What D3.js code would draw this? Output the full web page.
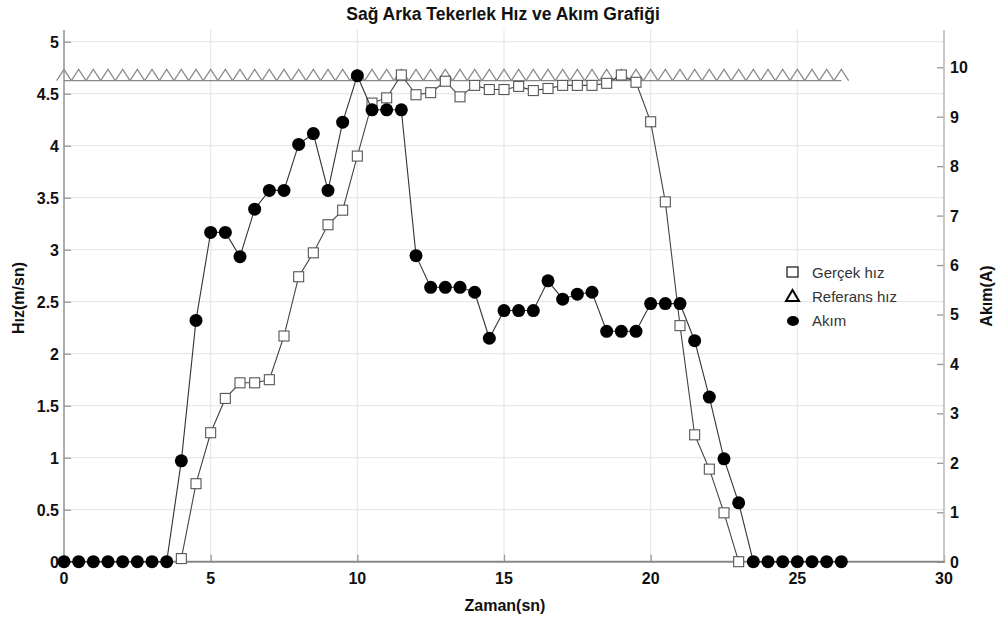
<!DOCTYPE html>
<html><head><meta charset="utf-8">
<script src="https://cdn.jsdelivr.net/npm/d3@7"></script>
<style>body{margin:0;background:#fff}svg{display:block}text{font-family:"Liberation Sans",Arial,sans-serif}</style>
</head><body><svg id="c" width="1003" height="620"></svg>
<script>
const title = "Sağ Arka Tekerlek Hız ve Akım Grafiği";
const xLabel = "Zaman(sn)", yLabelL = "Hız(m/sn)", yLabelR = "Akım(A)";
const xTicks = [0,5,10,15,20,25,30];
const yTicksL = [0,0.5,1,1.5,2,2.5,3,3.5,4,4.5,5];
const yTicksR = [0,1,2,3,4,5,6,7,8,9,10];
const legendNames = ["Gerçek hız","Referans hız","Akım"];

// Akım (A), t = 0 .. 26.5 step 0.5
const currentTime = [0,0.5,1,1.5,2,2.5,3,3.5,4,4.5,5,5.5,6,6.5,7,7.5,8,8.5,9,9.5,10,10.5,11,11.5,12,12.5,13,13.5,14,14.5,15,15.5,16,16.5,17,17.5,18,18.5,19,19.5,20,20.5,21,21.5,22,22.5,23,23.5,24,24.5,25,25.5,26,26.5];
const currentVals = [0,0,0,0,0,0,0,0,2.04,4.88,6.66,6.66,6.17,7.13,7.51,7.51,8.44,8.66,7.51,8.89,9.83,9.14,9.14,9.14,6.19,5.55,5.55,5.55,5.45,4.52,5.08,5.08,5.08,5.68,5.31,5.41,5.45,4.66,4.66,4.66,5.22,5.22,5.22,4.47,3.33,2.08,1.19,0,0,0,0,0,0,0];
// Gerçek hız (m/sn), t = 4 .. 23
const speedTime = [4,4.5,5,5.5,6,6.5,7,7.5,8,8.5,9,9.5,10,10.5,11,11.5,12,12.5,13,13.5,14,14.5,15,15.5,16,16.5,17,17.5,18,18.5,19,19.5,20,20.5,21,21.5,22,22.5,23];
const speedVals = [0.03,0.75,1.24,1.57,1.72,1.72,1.75,2.17,2.74,2.97,3.24,3.38,3.90,4.41,4.46,4.68,4.49,4.51,4.62,4.47,4.58,4.54,4.54,4.57,4.53,4.55,4.58,4.58,4.58,4.60,4.68,4.61,4.23,3.46,2.27,1.22,0.89,0.47,0];
// Referans hız (m/sn), t = 0 .. 26.5
const refTime = currentTime;
const refVals = currentTime.map(() => 4.625);

const svg = d3.select("#c");
const x = d3.scaleLinear().domain([0,30]).range([64,944]);
const yL = d3.scaleLinear().domain([0,5.1125]).range([561.7,30]);
const yR = d3.scaleLinear().domain([0,10.754]).range([561.7,30]);
const pTop = 30, pBottom = 561.7, pLeft = 64, pRight = 944;

// grid
const g = svg.append("g");
g.selectAll("line.v").data(xTicks.filter(d=>d>0&&d<30)).join("line")
 .attr("x1",d=>x(d)).attr("x2",d=>x(d)).attr("y1",pTop).attr("y2",pBottom)
 .attr("stroke","#e8e8e8").attr("stroke-width",1.2);
g.selectAll("line.h").data(yTicksL.filter(d=>d>0)).join("line")
 .attr("x1",pLeft).attr("x2",pRight).attr("y1",d=>yL(d)).attr("y2",d=>yL(d))
 .attr("stroke","#e8e8e8").attr("stroke-width",1.2);

// axes
const axB = svg.append("g").attr("transform",`translate(0,${pBottom})`)
 .call(d3.axisTop(x).tickValues(xTicks).tickSize(7).tickFormat(""));
const axL = svg.append("g").attr("transform",`translate(${pLeft},0)`)
 .call(d3.axisRight(yL).tickValues(yTicksL).tickSize(7).tickFormat(""));
const axR = svg.append("g").attr("transform",`translate(${pRight},0)`)
 .call(d3.axisLeft(yR).tickValues(yTicksR).tickSize(7).tickFormat(""));
[axB,axL,axR].forEach(a=>{a.select(".domain").remove(); a.selectAll("line").attr("stroke","#999").attr("stroke-width",1.3);});
svg.append("line").attr("x1",pLeft).attr("x2",pLeft).attr("y1",pTop).attr("y2",pBottom).attr("stroke","#999").attr("stroke-width",1.6);
svg.append("line").attr("x1",pRight).attr("x2",pRight).attr("y1",pTop).attr("y2",pBottom).attr("stroke","#bbb").attr("stroke-width",1.6);
svg.append("line").attr("x1",pLeft-1).attr("x2",pRight+1).attr("y1",pBottom).attr("y2",pBottom).attr("stroke","#888").attr("stroke-width",2);

// tick labels
const tl = svg.append("g").attr("font-weight","bold").attr("font-size",16).attr("fill","#111");
tl.selectAll("text.x").data(xTicks).join("text").attr("x",d=>x(d)).attr("y",pBottom+22).attr("text-anchor","middle").text(d=>d);
tl.selectAll("text.l").data(yTicksL).join("text").attr("x",pLeft-5).attr("y",d=>yL(d)+6).attr("text-anchor","end").text(d=>d);
tl.selectAll("text.r").data(yTicksR).join("text").attr("x",pRight+6).attr("y",d=>yR(d)+6).attr("text-anchor","start").text(d=>d);

// titles
svg.append("text").attr("x",503).attr("y",20).attr("text-anchor","middle").attr("font-weight","bold").attr("font-size",17.5).attr("fill","#111").text(title);
svg.append("text").attr("x",505).attr("y",611).attr("text-anchor","middle").attr("font-weight","bold").attr("font-size",16).attr("fill","#111").text(xLabel);
svg.append("text").attr("transform","translate(24,298) rotate(-90)").attr("text-anchor","middle").attr("font-weight","bold").attr("font-size",16).attr("fill","#111").text(yLabelL);
svg.append("text").attr("transform","translate(992,296) rotate(-90)").attr("text-anchor","middle").attr("font-weight","bold").attr("font-size",16).attr("fill","#111").text(yLabelR);

const line = (ys) => d3.line().x(d=>x(d[0])).y(d=>ys(d[1]));

// reference
const refData = d3.zip(refTime, refVals);
svg.append("path").datum(refData).attr("d",line(yL)).attr("fill","none").attr("stroke","#888").attr("stroke-width",1.3);
const tw = (x(0.5)-x(0))/2, th = 11.3;
svg.selectAll("path.tri").data(refData).join("path")
 .attr("d",d=>{const cx=x(d[0]), cy=yL(d[1]); return `M${cx-tw},${cy}L${cx},${cy-th}L${cx+tw},${cy}`;})
 .attr("fill","none").attr("stroke","#888").attr("stroke-width",1.2);

// speed
const spData = d3.zip(speedTime, speedVals);
svg.append("path").datum(spData).attr("d",line(yL)).attr("fill","none").attr("stroke","#444").attr("stroke-width",1.1);
svg.selectAll("rect.sq").data(spData).join("rect")
 .attr("x",d=>x(d[0])-5).attr("y",d=>yL(d[1])-5).attr("width",10).attr("height",10)
 .attr("fill","#fff").attr("stroke","#555").attr("stroke-width",1.1);

// current
const cuData = d3.zip(currentTime, currentVals);
svg.append("path").datum(cuData).attr("d",line(yR)).attr("fill","none").attr("stroke","#333").attr("stroke-width",1.1);
svg.selectAll("circle.cu").data(cuData).join("circle")
 .attr("cx",d=>x(d[0])).attr("cy",d=>yR(d[1])).attr("r",6.5).attr("fill","#000");

// legend
const lg = svg.append("g");
lg.append("rect").attr("x",787).attr("y",267).attr("width",11).attr("height",10).attr("fill","#fff").attr("stroke","#222").attr("stroke-width",1.3);
lg.append("path").attr("d","M786,301L792.5,290L799,301Z").attr("fill","none").attr("stroke","#000").attr("stroke-width",2);
lg.append("ellipse").attr("cx",793).attr("cy",321).attr("rx",6).attr("ry",5).attr("fill","#000");
lg.selectAll("text").data(legendNames).join("text").attr("x",812).attr("y",(d,i)=>278+i*24)
 .attr("font-size",15).attr("fill","#333").text(d=>d);
</script></body></html>
